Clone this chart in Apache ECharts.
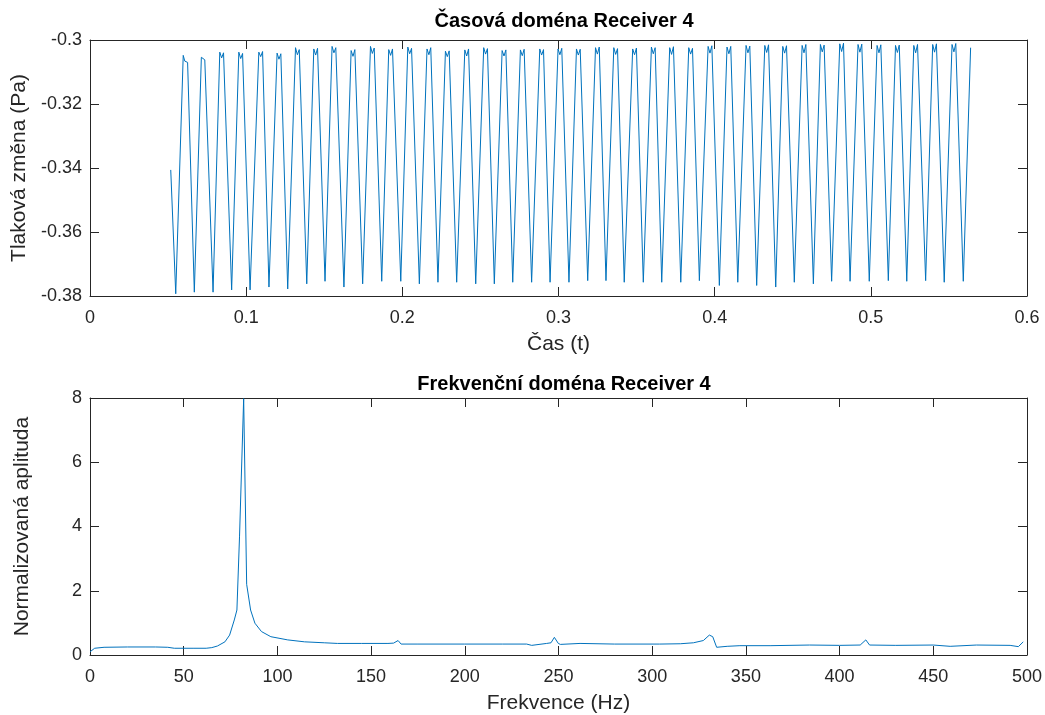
<!DOCTYPE html>
<html>
<head>
<meta charset="utf-8">
<script src="https://cdn.jsdelivr.net/npm/echarts@6/dist/echarts.min.js"></script>
<style>
  html, body { margin: 0; padding: 0; background: #ffffff; }
  #chart { width: 1045px; height: 715px; }
</style>
</head>
<body>
<div id="chart"></div>
<script>
// Receiver 4 – pressure signal in time (s, Pa)
const timeS = [
  0.0517,
  0.0549, 0.0597, 0.0607, 0.0625,
  0.0668, 0.0713, 0.0722, 0.0735,
  0.0788, 0.0831, 0.0843, 0.0855,
  0.0907, 0.0953, 0.0965, 0.0977,
  0.1025, 0.1081, 0.1093, 0.1105,
  0.1146, 0.1198, 0.1210, 0.1222,
  0.1266, 0.1316, 0.1328, 0.1340,
  0.1388, 0.1433, 0.1445, 0.1457,
  0.1505, 0.1550, 0.1562, 0.1574,
  0.1626, 0.1672, 0.1684, 0.1696,
  0.1746, 0.1796, 0.1808, 0.1820,
  0.1868, 0.1913, 0.1925, 0.1937,
  0.1990, 0.2035, 0.2047, 0.2059,
  0.2109, 0.2158, 0.2170, 0.2182,
  0.2228, 0.2276, 0.2288, 0.2300,
  0.2348, 0.2400, 0.2412, 0.2424,
  0.2470, 0.2521, 0.2533, 0.2545,
  0.2589, 0.2639, 0.2651, 0.2663,
  0.2707, 0.2756, 0.2768, 0.2780,
  0.2828, 0.2880, 0.2892, 0.2904,
  0.2946, 0.2997, 0.3009, 0.3021,
  0.3067, 0.3115, 0.3127, 0.3139,
  0.3187, 0.3237, 0.3249, 0.3261,
  0.3304, 0.3354, 0.3366, 0.3378,
  0.3421, 0.3475, 0.3487, 0.3499,
  0.3543, 0.3595, 0.3607, 0.3619,
  0.3661, 0.3712, 0.3724, 0.3736,
  0.3783, 0.3834, 0.3846, 0.3858,
  0.3902, 0.3958, 0.3970, 0.3982,
  0.4030, 0.4079, 0.4091, 0.4103,
  0.4148, 0.4201, 0.4213, 0.4225,
  0.4269, 0.4321, 0.4333, 0.4345,
  0.4391, 0.4436, 0.4448, 0.4460,
  0.4510, 0.4560, 0.4572, 0.4584,
  0.4632, 0.4677, 0.4689, 0.4701,
  0.4749, 0.4801, 0.4813, 0.4825,
  0.4867, 0.4918, 0.4930, 0.4942,
  0.4990, 0.5040, 0.5052, 0.5064,
  0.5112, 0.5158, 0.5170, 0.5182,
  0.5230, 0.5275, 0.5287, 0.5299,
  0.5351, 0.5396, 0.5408, 0.5420,
  0.5470, 0.5520, 0.5532, 0.5544,
  0.5592, 0.5639
];
const pressurePa = [
  -0.3406,
  -0.3793, -0.3048, -0.3066, -0.3070,
  -0.3788, -0.3054, -0.3056, -0.3062,
  -0.3788, -0.3038, -0.3056, -0.3040,
  -0.3781, -0.3038, -0.3058, -0.3042,
  -0.3781, -0.3038, -0.3052, -0.3036,
  -0.3772, -0.3041, -0.3060, -0.3043,
  -0.3778, -0.3024, -0.3046, -0.3030,
  -0.3762, -0.3028, -0.3047, -0.3026,
  -0.3754, -0.3020, -0.3040, -0.3024,
  -0.3772, -0.3033, -0.3051, -0.3030,
  -0.3762, -0.3020, -0.3042, -0.3025,
  -0.3754, -0.3030, -0.3048, -0.3028,
  -0.3754, -0.3022, -0.3043, -0.3026,
  -0.3762, -0.3028, -0.3046, -0.3024,
  -0.3757, -0.3035, -0.3052, -0.3034,
  -0.3757, -0.3031, -0.3050, -0.3028,
  -0.3762, -0.3024, -0.3044, -0.3027,
  -0.3762, -0.3033, -0.3050, -0.3031,
  -0.3757, -0.3031, -0.3049, -0.3029,
  -0.3757, -0.3028, -0.3047, -0.3030,
  -0.3757, -0.3028, -0.3046, -0.3026,
  -0.3757, -0.3028, -0.3047, -0.3029,
  -0.3752, -0.3024, -0.3044, -0.3022,
  -0.3752, -0.3024, -0.3045, -0.3027,
  -0.3757, -0.3028, -0.3046, -0.3025,
  -0.3757, -0.3022, -0.3043, -0.3024,
  -0.3757, -0.3024, -0.3045, -0.3021,
  -0.3757, -0.3024, -0.3044, -0.3026,
  -0.3752, -0.3020, -0.3041, -0.3018,
  -0.3767, -0.3022, -0.3043, -0.3020,
  -0.3757, -0.3017, -0.3040, -0.3019,
  -0.3767, -0.3017, -0.3039, -0.3015,
  -0.3772, -0.3020, -0.3041, -0.3018,
  -0.3757, -0.3017, -0.3040, -0.3014,
  -0.3762, -0.3014, -0.3037, -0.3016,
  -0.3754, -0.3012, -0.3036, -0.3010,
  -0.3754, -0.3014, -0.3038, -0.3013,
  -0.3754, -0.3017, -0.3040, -0.3015,
  -0.3752, -0.3017, -0.3039, -0.3016,
  -0.3754, -0.3017, -0.3040, -0.3014,
  -0.3752, -0.3014, -0.3038, -0.3012,
  -0.3757, -0.3014, -0.3037, -0.3011,
  -0.3754, -0.3024
];

// Normalised amplitude spectrum (Hz)
const freqHz = [
  0, 2.5, 7.5, 20, 35, 41.5, 45, 55, 62, 65, 68, 72, 74.5, 77, 78.4, 79.8, 82.0,
  83.6, 85.7, 88, 91.5, 96.5, 105.5, 114.5, 125, 132, 145, 159, 162, 164.4, 166,
  175, 200, 220, 233, 235.7, 243.7, 246, 247.8, 249.9, 251, 261.5, 280, 304, 315,
  322, 327.3, 330.5, 332.3, 334.4, 340, 346.8, 362.9, 384, 400, 411, 414, 416,
  430, 450, 459, 473, 491, 495.4, 498
];
const ampNorm = [
  0.10, 0.21, 0.24, 0.25, 0.25, 0.24, 0.21, 0.21, 0.21, 0.23, 0.28, 0.41, 0.62, 1.09, 1.40, 3.70, 7.98,
  2.20, 1.40, 0.99, 0.73, 0.57, 0.47, 0.41, 0.38, 0.36, 0.36, 0.36, 0.37, 0.45, 0.34,
  0.34, 0.34, 0.34, 0.34, 0.30, 0.36, 0.38, 0.55, 0.36, 0.33, 0.36, 0.34, 0.34, 0.35,
  0.38, 0.45, 0.62, 0.57, 0.24, 0.27, 0.29, 0.29, 0.31, 0.30, 0.31, 0.47, 0.31,
  0.30, 0.31, 0.27, 0.31, 0.30, 0.26, 0.41
];

// Tick values
const timeTicks = [0, 0.1, 0.2, 0.3, 0.4, 0.5, 0.6];
const pressureTicks = [-0.38, -0.36, -0.34, -0.32, -0.3];
const freqTicks = [0, 50, 100, 150, 200, 250, 300, 350, 400, 450, 500];
const ampTicks = [0, 2, 4, 6, 8];

const AXIS_COLOR = '#262626';
const LINE_COLOR = '#0072BD';
const FONT = '"Liberation Sans", Arial, Helvetica, sans-serif';

function boxAxis(gridIndex, position, min, max, interval, showLabels, extra) {
  return Object.assign({
    type: 'value',
    gridIndex: gridIndex,
    position: position,
    min: min,
    max: max,
    interval: interval,
    axisLine: { show: true, onZero: false, lineStyle: { color: AXIS_COLOR, width: 1 } },
    axisTick: { show: true, inside: true, length: 9, lineStyle: { color: AXIS_COLOR, width: 1 } },
    axisLabel: {
      show: showLabels,
      color: AXIS_COLOR,
      fontFamily: FONT,
      fontSize: 18,
      margin: (position === 'bottom') ? 13 : 8
    },
    splitLine: { show: false }
  }, extra || {});
}

const chart = echarts.init(document.getElementById('chart'), null, { renderer: 'canvas' });

const timeSeries = timeS.map((t, i) => [t, pressurePa[i]]);
const freqSeries = freqHz.map((f, i) => [f, ampNorm[i]]);

const nameStyle = { color: AXIS_COLOR, fontFamily: FONT, fontSize: 21 };

chart.setOption({
  animation: false,
  backgroundColor: '#ffffff',
  title: [
    {
      text: 'Časová doména Receiver 4',
      left: 559, top: 6, textAlign: 'center',
      textStyle: { color: '#000', fontFamily: FONT, fontSize: 20, fontWeight: 'bold' }
    },
    {
      text: 'Frekvenční doména Receiver 4',
      left: 559, top: 369, textAlign: 'center',
      textStyle: { color: '#000', fontFamily: FONT, fontSize: 20, fontWeight: 'bold' }
    }
  ],
  grid: [
    { left: 90, right: 18, top: 40, height: 256 },
    { left: 90, right: 18, top: 398, height: 257 }
  ],
  xAxis: [
    boxAxis(0, 'bottom', timeTicks[0], timeTicks[timeTicks.length - 1], 0.1, true, {
      name: 'Čas (t)', nameLocation: 'middle', nameGap: 38, nameTextStyle: nameStyle
    }),
    boxAxis(0, 'top', timeTicks[0], timeTicks[timeTicks.length - 1], 0.1, false),
    boxAxis(1, 'bottom', freqTicks[0], freqTicks[freqTicks.length - 1], 50, true, {
      name: 'Frekvence (Hz)', nameLocation: 'middle', nameGap: 38, nameTextStyle: nameStyle
    }),
    boxAxis(1, 'top', freqTicks[0], freqTicks[freqTicks.length - 1], 50, false)
  ],
  yAxis: [
    boxAxis(0, 'left', pressureTicks[0], pressureTicks[pressureTicks.length - 1], 0.02, true, {
      name: 'Tlaková změna (Pa)', nameLocation: 'middle', nameGap: 57, nameTextStyle: nameStyle
    }),
    boxAxis(0, 'right', pressureTicks[0], pressureTicks[pressureTicks.length - 1], 0.02, false),
    boxAxis(1, 'left', ampTicks[0], ampTicks[ampTicks.length - 1], 2, true, {
      name: 'Normalizovaná aplituda', nameLocation: 'middle', nameGap: 57, nameTextStyle: nameStyle
    }),
    boxAxis(1, 'right', ampTicks[0], ampTicks[ampTicks.length - 1], 2, false)
  ],
  series: [
    {
      type: 'line',
      xAxisIndex: 0, yAxisIndex: 0,
      data: timeSeries,
      showSymbol: false,
      lineStyle: { color: LINE_COLOR, width: 1 },
      clip: true
    },
    {
      type: 'line',
      xAxisIndex: 2, yAxisIndex: 2,
      data: freqSeries,
      showSymbol: false,
      lineStyle: { color: LINE_COLOR, width: 1 },
      clip: true
    }
  ]
});
</script>
</body>
</html>
